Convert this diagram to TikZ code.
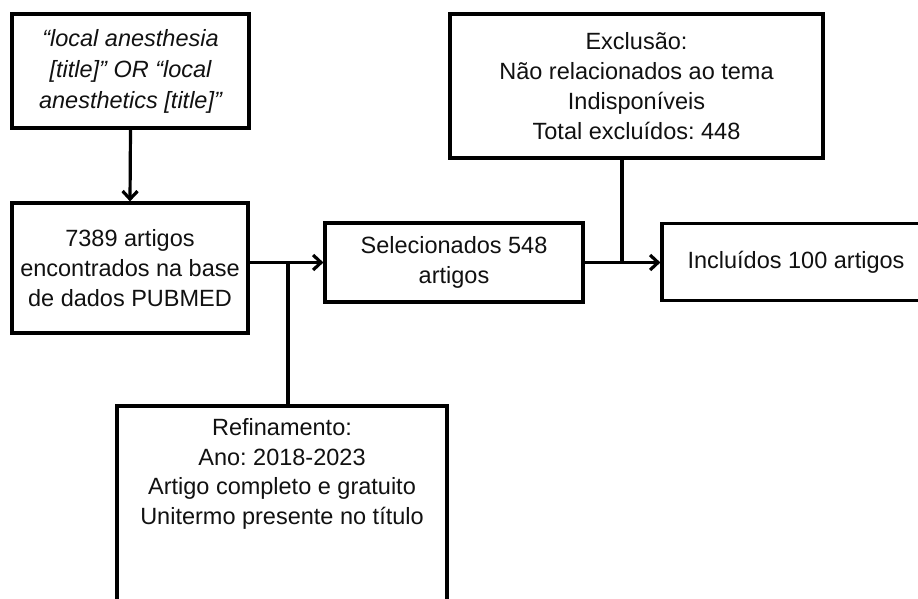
\documentclass[tikz,border=0pt]{standalone}
\usepackage{fontspec}
\setmainfont{Liberation Sans}
\usetikzlibrary{arrows.meta}
\definecolor{ink}{HTML}{111111}
\frenchspacing
\begin{document}
\begin{tikzpicture}[x=1pt,y=-1pt,
  box/.style={draw=black, line width=3.2pt, rectangle, align=center, inner sep=0pt, text=ink,
    font=\fontsize{23.5}{30}\selectfont},
  conn/.style={draw=black, line width=3.2pt},
  arr/.style={conn, -{Straight Barb[length=8pt,width=15pt]}}]
\useasboundingbox (0,0) rectangle (918,599);
\clip (0,0) rectangle (918,599);
\fill[white] (0,0) rectangle (918,599);

\node[box, minimum width=237pt, minimum height=114pt,
  font=\fontsize{23.5}{31}\selectfont\itshape] (query) at (130.5,71)
  {“local anesthesia\\{}[title]” OR “local\\anesthetics [title]”};

\node[box, minimum width=236pt, minimum height=130pt] (found) at (130,268)
  {7389 artigos\\encontrados na base\\de dados PUBMED};

\node[box, minimum width=258pt, minimum height=79pt] (sel) at (454,262.5)
  {Selecionados 548\\artigos};

\node[box, minimum width=268pt, minimum height=77pt] (inc) at (796,262)
  {Incluídos 100 artigos};

\node[box, minimum width=373pt, minimum height=144pt] (excl) at (636.5,86)
  {Exclusão:\\Não relacionados ao tema\\Indisponíveis\\Total excluídos: 448};

\node[box, minimum width=330pt, minimum height=250pt] (ref) at (282,531) {};
\node[align=center, inner sep=0pt, text=ink, font=\fontsize{23.5}{29.5}\selectfont,
  anchor=north] (reftext) at ([yshift=-14pt]ref.north)
  {Refinamento:\\Ano: 2018-2023\\Artigo completo e gratuito\\Unitermo presente no título};

\coordinate (j1) at (288,262.5);
\coordinate (j2) at (622,262.5);

\draw[arr] (query.south) -- (found.north);
\draw[arr] (sel.west -| found.east) -- (sel.west);
\draw[conn] (j1) -- (j1 |- ref.north);
\draw[arr] (sel.east) -- (sel.east -| inc.west);
\draw[conn] (excl.south -| j2) -- (j2);
\end{tikzpicture}
\end{document}
